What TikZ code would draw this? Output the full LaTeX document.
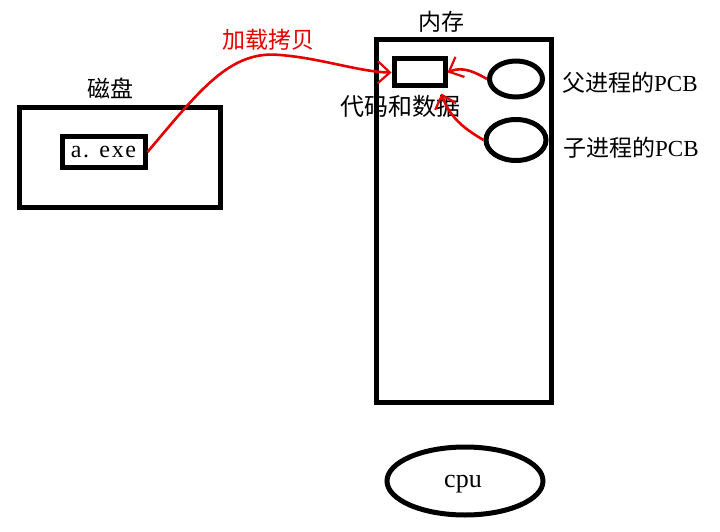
\documentclass[tikz,border=0pt]{standalone}
\usepackage{fontspec}
\setmainfont{Liberation Serif}
\newfontfamily\cjk{Noto Sans CJK SC}
\newfontfamily\exefam[LetterSpace=7]{Liberation Serif}
\usetikzlibrary{shapes.geometric,arrows.meta}
\begin{document}
\begin{tikzpicture}[x=1pt,y=-1pt,
  box/.style={draw=black,line width=5pt,rectangle,inner sep=0pt},
  oval/.style={draw=black,line width=5pt,ellipse,inner sep=0pt},
  lbl/.style={inner sep=0pt,font=\cjk\fontsize{23}{26}\selectfont},
  redarrow/.style={draw=red!90!black,line width=2.6pt,-{Straight Barb[length=12pt,width=22pt,line width=2.2pt]}}
]
\useasboundingbox (0,0) rectangle (720,532);
\fill[white] (0,0) rectangle (720,532);
% disk
\node[box,minimum width=201pt,minimum height=100pt] (disk) at (120,157.5) {};
\node[lbl] (disklbl) at (110,88) {磁盘};
\node[box,minimum width=83pt,minimum height=30pt,font=\exefam\fontsize{24}{26}\selectfont] (aexe) at (103.5,152) {a. exe};
% memory
\node[box,minimum width=175pt,minimum height=362.5pt] (mem) at (463.5,220.75) {};
\node[lbl] (memlbl) at (441,22) {内存};
\node[box,minimum width=51pt,minimum height=27pt] (code) at (419.5,72.5) {};
\node[lbl,font=\cjk\fontsize{24}{26}\selectfont] (codelbl) at (400,106) {代码和数据};
% PCBs
\node[oval,minimum width=53pt,minimum height=36pt] (pcb1) at (516,79) {};
\node[oval,minimum width=60pt,minimum height=41pt] (pcb2) at (516,140) {};
\node[lbl,anchor=west] (pcb1lbl) at (562,83) {父进程的\fontspec{Liberation Serif}PCB};
\node[lbl,anchor=west] (pcb2lbl) at (563,148) {子进程的\fontspec{Liberation Serif}PCB};
% cpu
\node[oval,minimum width=156pt,minimum height=68pt] (cpu) at (465,481) {};
\node[inner sep=0pt,anchor=base,font=\fontsize{26}{28}\selectfont] (cpulbl) at (463,487) {cpu};
% arrows
\node[lbl,text=red!90!black] (loadlbl) at (268,40) {加载拷贝};
\draw[redarrow] (aexe.east) .. controls (200,90) and (230,50) .. (280,55)
   .. controls (320,58) and (360,72) .. (code.west);
\draw[redarrow] (pcb1.west) .. controls (475,72) and (462,66) .. (code.east);
\draw[redarrow] (pcb2.west) .. controls (470,132) and (450,120) .. ([xshift=-6pt,yshift=-5pt]code.south east);
\end{tikzpicture}
\end{document}
